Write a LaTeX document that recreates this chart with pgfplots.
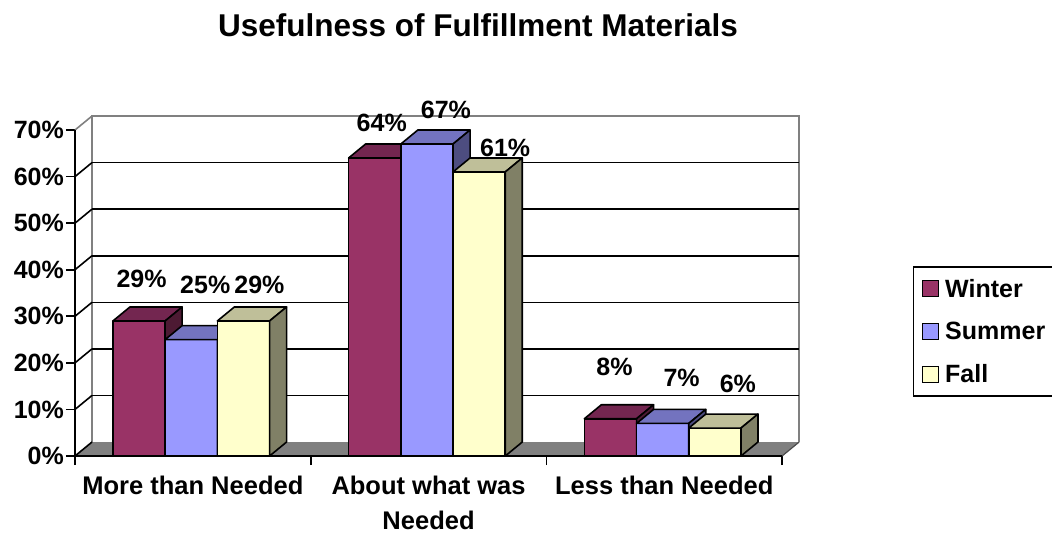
\documentclass[border=0pt]{standalone}
\usepackage{fontspec}
\setmainfont{Liberation Sans}
\usepackage{pgfplots}
\pgfplotsset{compat=1.18}

% face colours: front, top (shaded), side (dark)
\definecolor{winterF}{HTML}{993366}
\definecolor{winterT}{HTML}{732650}
\definecolor{winterS}{HTML}{4D1A33}
\definecolor{summerF}{HTML}{9999FF}
\definecolor{summerT}{HTML}{7373BF}
\definecolor{summerS}{HTML}{4D4D80}
\definecolor{fallF}{HTML}{FFFFCC}
\definecolor{fallT}{HTML}{BFBF99}
\definecolor{fallS}{HTML}{808066}
\definecolor{wallgray}{HTML}{808080}

\tikzset{
  barface/.style={draw=black, line width=1.6pt, line join=round},
  barlabel/.style={font=\bfseries\fontsize{25}{30}\selectfont, anchor=center, inner sep=0pt},
}

% bar width and depth offsets, in axis units
\def\bw{0.2215}
\def\dx{0.0721}
\def\dy{3}

% one 3-D bar: #1 left edge, #2 value (%), #3/#4/#5 front/top/side colour,
% #6/#7 label shift in pt
\newcommand{\drawbar}[7]{%
  \pgfmathsetmacro{\xa}{#1}%
  \pgfmathsetmacro{\xb}{#1+\bw}%
  \pgfmathsetmacro{\xc}{#1+\bw+\dx}%
  \pgfmathsetmacro{\xd}{#1+\dx}%
  \pgfmathsetmacro{\xm}{#1+0.5*\bw}%
  \pgfmathsetmacro{\yt}{#2+\dy}%
  \edef\barcmds{%
    \noexpand\addplot[barface, fill=#3, forget plot] coordinates {(\xa,0) (\xb,0) (\xb,#2) (\xa,#2)} -- cycle;
    \noexpand\addplot[barface, fill=#4, forget plot] coordinates {(\xa,#2) (\xb,#2) (\xc,\yt) (\xd,\yt)} -- cycle;
    \noexpand\addplot[barface, fill=#5, forget plot] coordinates {(\xb,0) (\xc,\dy) (\xc,\yt) (\xb,#2)} -- cycle;
    \noexpand\node[barlabel, xshift=#6pt, yshift=#7pt] at (axis cs:\xm,#2) {#2\noexpand\%};
  }%
  \barcmds
}

\begin{document}
\begin{tikzpicture}
\begin{axis}[
  x=235.7pt, y=4.657pt,
  xmin=0, xmax=3.0721, ymin=0, ymax=73,
  clip=false,
  axis line style={draw=none},
  /pgf/number format/assume math mode=true,
  tick align=outside,
  tick pos=left,
  major tick length=9pt,
  tick style={black, line width=1.6pt},
  tick label style={font=\bfseries\fontsize{25}{30}\selectfont},
  ytick={0,10,...,70},
  yticklabel={\pgfmathprintnumber{\tick}\%},
  yticklabel style={inner xsep=2pt},
  xtick={0,1,2,3},
  xticklabels={},
  extra x ticks={0.5,1.5,2.5},
  extra x tick labels={More than Needed,{About what was\\Needed},Less than Needed},
  extra x tick style={major tick length=0pt,
    tick label style={align=center, yshift=-16pt, inner ysep=4pt,
      font=\bfseries\fontsize{25.5}{35}\selectfont}},
  legend image code/.code={\draw[#1, draw=black, line width=1.5pt] (0pt,-8pt) rectangle (16pt,8pt);},
  legend cell align=left,
  legend style={at={(axis cs:3.5552,40.76)}, anchor=north west,
    draw=black, line width=1.5pt, inner xsep=8pt, inner ysep=9pt,
    row sep=17.5pt, column sep=3pt,
    nodes={inner sep=3pt},
    font=\bfseries\fontsize{25}{30}\selectfont},
]
% floor
\fill[wallgray] (axis cs:0,0) -- (axis cs:3,0) -- (axis cs:3+\dx,\dy) -- (axis cs:\dx,\dy) -- cycle;
\draw[black!70, line width=1.2pt] (axis cs:3,0) -- (axis cs:3+\dx,\dy);
% back wall outline
\draw[wallgray, line width=1.6pt] (axis cs:\dx,\dy) -- (axis cs:\dx,70+\dy) -- (axis cs:3+\dx,70+\dy) -- (axis cs:3+\dx,\dy);
\draw[wallgray, line width=1.6pt] (axis cs:0,70) -- (axis cs:\dx,70+\dy);
% grid lines on back and side walls
\pgfplotsinvokeforeach{10,20,30,40,50,60}{
  \draw[black, line width=1.6pt] (axis cs:\dx,#1+\dy) -- (axis cs:3+\dx,#1+\dy);
}
\pgfplotsinvokeforeach{0,10,20,30,40,50,60}{
  \draw[black, line width=1.6pt] (axis cs:0,#1) -- (axis cs:\dx,#1+\dy);
}

% More than Needed
\drawbar{0.161}{29}{winterF}{winterT}{winterS}{2.5}{42}
\drawbar{0.3825}{25}{summerF}{summerT}{summerS}{14}{54.6}
\drawbar{0.604}{29}{fallF}{fallT}{fallS}{16}{36}
% About what was Needed
\drawbar{1.161}{64}{winterF}{winterT}{winterS}{7}{35.5}
\drawbar{1.3825}{67}{summerF}{summerT}{summerS}{19}{34}
\drawbar{1.604}{61}{fallF}{fallT}{fallS}{26}{24.5}
% Less than Needed
\drawbar{2.161}{8}{winterF}{winterT}{winterS}{4}{52}
\drawbar{2.3825}{7}{summerF}{summerT}{summerS}{19}{45.4}
\drawbar{2.604}{6}{fallF}{fallT}{fallS}{23}{44}

% front axis lines
\draw[black, line width=1.8pt] (axis cs:0,70) -- (axis cs:0,0) -- (axis cs:3,0);

% title
\node[font=\bfseries\fontsize{31.5}{36}\selectfont] at (axis cs:1.7098,92.55) {Usefulness of Fulfillment Materials};

\addlegendimage{fill=winterF}\addlegendentry{Winter}
\addlegendimage{fill=summerF}\addlegendentry{Summer}
\addlegendimage{fill=fallF}\addlegendentry{Fall}

% page frame
\coordinate (bbsw) at (axis cs:-0.3182,-16.534);
\coordinate (bbne) at (axis cs:4.1451,97.917);
\end{axis}
\pgfresetboundingbox
\useasboundingbox (bbsw) rectangle (bbne);
\end{tikzpicture}
\end{document}
